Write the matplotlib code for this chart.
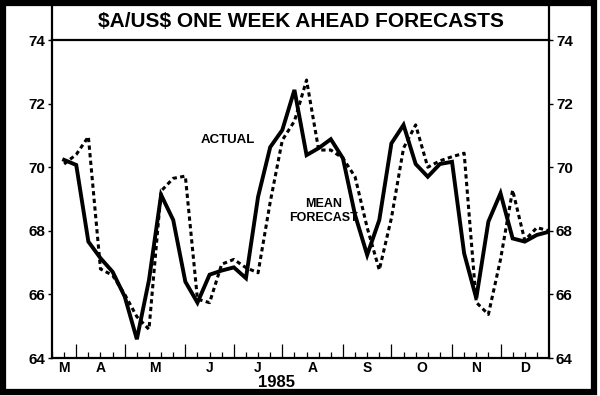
"""
Pronosticos a una semana del tipo de cambio $A/US$ (1985).
Linea continua: valor observado; linea punteada: pronostico medio.
"""
import matplotlib
matplotlib.use("Agg")
import matplotlib.pyplot as plt
from matplotlib.patches import Rectangle

# semanas (indice) y valores
weeks = list(range(1, 42))
actual = [70.23, 70.07, 67.66, 67.14, 66.71, 65.93, 64.59, 66.45, 69.13, 68.34,
          66.40, 65.74, 66.62, 66.75, 66.85, 66.51, 69.07, 70.63, 71.17, 72.43,
          70.38, 70.60, 70.88, 70.28, 68.50, 67.24, 68.34, 70.75, 71.33, 70.10,
          69.70, 70.10, 70.17, 67.29, 65.88, 68.29, 69.18, 67.76, 67.66, 67.87,
          67.97]
forecast = [70.10, 70.40, 70.96, 66.80, 66.60, 66.00, 65.30, 64.90, 69.25, 69.65,
            69.72, 65.85, 65.74, 66.95, 67.10, 66.84, 66.68, 68.90, 70.85, 71.45,
            72.74, 70.54, 70.54, 70.28, 69.70, 68.10, 66.77, 68.40, 70.60, 71.33,
            70.00, 70.20, 70.33, 70.44, 65.75, 65.37, 67.10, 69.28, 67.70, 68.10,
            68.00]

month_labels = ["M", "A", "M", "J", "J", "A", "S", "O", "N", "D"]
month_start = [0, 2, 6, 11, 15, 19, 24, 28, 33, 37]
last_week = 41

y_ticks = [64, 66, 68, 70, 72, 74]


def main():
    W, H = 600, 396
    fig = plt.figure(figsize=(6, 3.96), dpi=100)
    plt.rcParams["font.family"] = ["Liberation Sans", "DejaVu Sans"]

    # marco exterior
    fig.patches.append(Rectangle((3 / W, 4 / H), 591 / W, 389 / H, transform=fig.transFigure,
                                 fill=False, edgecolor="black", linewidth=4.5))

    left, right, top, bottom = 52, 549, 40, 358

    # caja del titulo
    tax = fig.add_axes([left / W, 1 - top / H, (right - left) / W, (top - 3) / H])
    tax.patch.set_visible(False)
    tax.set_xticks([])
    tax.set_yticks([])
    for s in ["left", "right"]:
        tax.spines[s].set_linewidth(1.6)
    tax.spines["top"].set_visible(False)
    tax.spines["bottom"].set_visible(False)
    tax.text(0.5, 0.5, r"\$A/US\$ ONE WEEK AHEAD FORECASTS", transform=tax.transAxes,
             ha="center", va="center", fontsize=15, fontweight="bold")

    ax = fig.add_axes([left / W, 1 - bottom / H, (right - left) / W, (bottom - top) / H])
    ax.plot(weeks, actual, color="black", linewidth=2.8, solid_joinstyle="miter")
    ax.plot(weeks, forecast, color="black", linewidth=2.2, linestyle=(0, (1.4, 1.1)))

    ax.set_xlim(0, last_week)
    ax.set_ylim(64, 74)
    for s in ax.spines.values():
        s.set_linewidth(1.6)

    ax.set_yticks(y_ticks)
    ax.set_yticklabels([str(v) for v in y_ticks], fontsize=11, fontweight="bold")
    ax.tick_params(axis="y", direction="out", length=3, width=1, left=True, right=True,
                   labelleft=True, labelright=True, pad=2)

    # marcas semanales y de mes en el eje x
    ax.set_xticks(month_start[1:], minor=False)
    ax.set_xticks(range(0, last_week + 1), minor=True)
    ax.set_xticklabels([])
    ax.tick_params(axis="x", which="major", direction="in", length=10, width=0.9)
    ax.tick_params(axis="x", which="minor", direction="in", length=4, width=0.9)

    bounds = month_start + [last_week]
    for i, lab in enumerate(month_labels):
        mid = (bounds[i] + bounds[i + 1]) / 2
        ax.text(mid, -0.01, lab, transform=ax.get_xaxis_transform(), ha="center", va="top",
                fontsize=10, fontweight="bold")
    ax.text(18.5, -0.055, "1985", transform=ax.get_xaxis_transform(), ha="center", va="top",
            fontsize=12, fontweight="bold")

    ax.text(14.5, 70.85, "ACTUAL", ha="center", va="center", fontsize=9.5, fontweight="bold")
    ax.text(22.4, 68.85, "MEAN", ha="center", va="center", fontsize=9, fontweight="bold")
    ax.text(22.4, 68.4, "FORECAST", ha="center", va="center", fontsize=9, fontweight="bold")

    fig.savefig("out.png", dpi=100)


if __name__ == "__main__":
    main()
